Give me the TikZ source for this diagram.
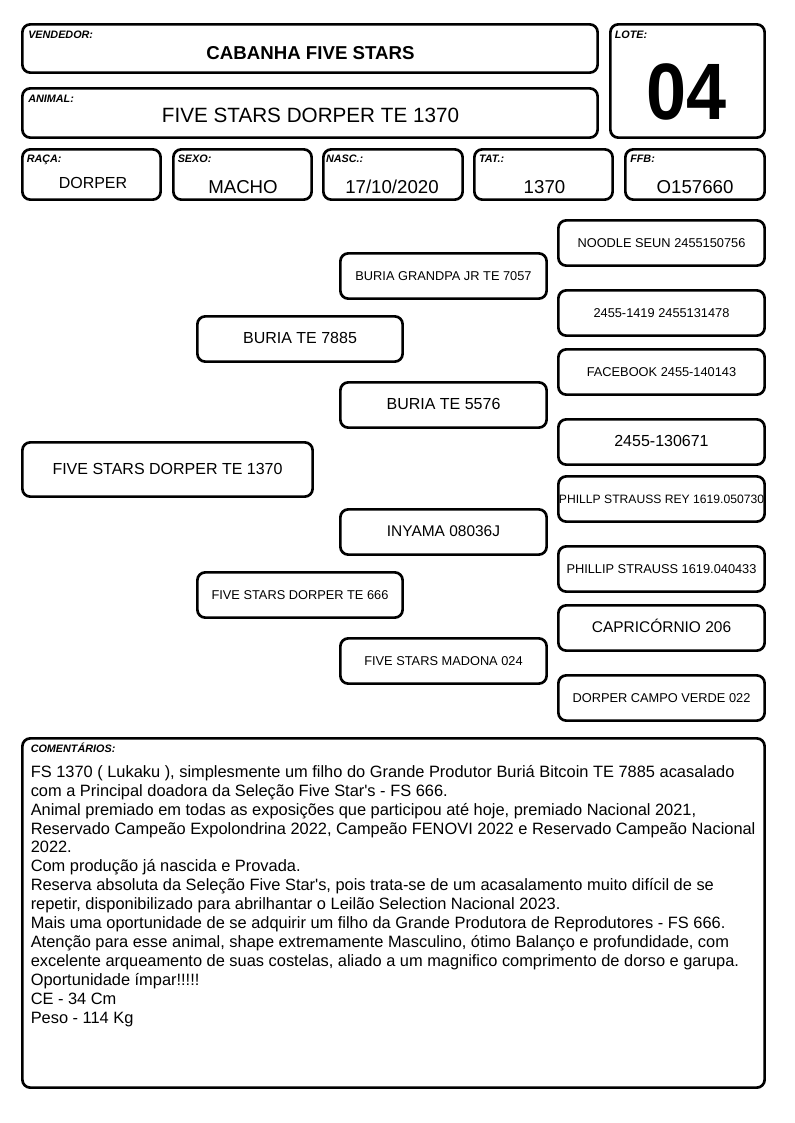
\documentclass[tikz,border=0pt]{standalone}
\usepackage{fontspec}
\newfontfamily\arial{Liberation Sans}
\newcommand\mkbox[7]{\node[bx,font=#6,minimum width={(#4-#2-2.7)*0.75pt},minimum height={(#5-#3-2.7)*0.75pt}] (#1) at ({(#2+#4)/2},{(#3+#5)/2}) {#7};}
\tikzset{
  bx/.style={draw,line width=2pt,rounded corners=6pt,inner sep=0pt,align=center,text height=0.72em,text depth=0pt},
  lab/.style={anchor=base west,inner sep=0pt,font=\arial\bfseries\itshape\fontsize{8.1}{9}\selectfont},
  val/.style={anchor=base,inner sep=0pt},
  comline/.style={anchor=base west,inner sep=0pt,font=\arial\fontsize{12.3}{14}\selectfont},
}
\newcommand\fsm{\arial\fontsize{9.6}{11}\selectfont}
\newcommand\fmd{\arial\fontsize{12}{14}\selectfont}
\newcommand\flg{\arial\fontsize{14}{16}\selectfont}
\begin{document}
\begin{tikzpicture}[x=0.75pt,y=-0.75pt]
\useasboundingbox[fill=white] (0,0) rectangle (794,1123);
% header
\mkbox{vend}{21}{23}{599}{74}{}{}
\node[lab] (lvend) at (28,38.5) {VENDEDOR:};
\node[val,font=\arial\bfseries\fontsize{14}{16}\selectfont] (vvend) at (310.5,60) {CABANHA FIVE STARS};
\mkbox{anim}{21}{87}{599}{139}{}{}
\node[lab] (lanim) at (28,103) {ANIMAL:};
\node[val,font=\arial\fontsize{15.5}{17}\selectfont] (vanim) at (310.5,122.7) {FIVE STARS DORPER TE 1370};
\mkbox{lote}{609}{23}{766}{139}{}{}
\node[lab] (llote) at (614.5,38.5) {LOTE:};
\node[val,font=\arial\bfseries\fontsize{60}{64}\selectfont,xscale=0.9,transform shape] (vlote) at (687,120) {04};
\mkbox{raca}{21}{148}{162}{201}{}{}
\node[lab] (lraca) at (26.5,163) {RAÇA:};
\node[val,font=\fmd] (vraca) at (93,188.3) {DORPER};
\mkbox{sexo}{172}{148}{313}{201}{}{}
\node[lab] (lsexo) at (177.5,163) {SEXO:};
\node[val,font=\flg] (vsexo) at (243,193.3) {MACHO};
\mkbox{nasc}{322}{148}{464}{201}{}{}
\node[lab] (lnasc) at (325.8,163) {NASC.:};
\node[val,font=\flg] (vnasc) at (392,193.3) {17/10/2020};
\mkbox{tat}{473}{148}{614}{201}{}{}
\node[lab] (ltat) at (478.8,163) {TAT.:};
\node[val,font=\flg] (vtat) at (544.5,193.3) {1370};
\mkbox{ffb}{624}{148}{766}{201}{}{}
\node[lab] (lffb) at (630,163) {FFB:};
\node[val,font=\flg] (vffb) at (695,193.3) {O157660};
% pedigree
\mkbox{p1}{557}{219}{766}{267}{\fsm}{NOODLE SEUN 2455150756}
\mkbox{p2}{339}{252}{548}{300}{\fsm}{BURIA GRANDPA JR TE 7057}
\mkbox{p3}{557}{289}{766}{337}{\fsm}{2455-1419 2455131478}
\mkbox{p4}{196}{315}{404}{363}{\fmd}{BURIA TE 7885}
\mkbox{p5}{557}{348}{766}{396}{\fsm}{FACEBOOK 2455-140143}
\mkbox{p6}{339}{381}{548}{429}{\fmd}{BURIA TE 5576}
\mkbox{p7}{557}{418}{766}{466}{\fmd}{2455-130671}
\mkbox{p8}{21}{441}{314}{498}{\fmd}{FIVE STARS DORPER TE 1370}
\mkbox{p9}{557}{475}{766}{523}{\arial\fontsize{9.1}{11}\selectfont}{PHILLP STRAUSS REY 1619.050730}
\mkbox{p10}{339}{508}{548}{556}{\arial\fontsize{11.6}{13}\selectfont}{INYAMA 08036J}
\mkbox{p11}{557}{545}{766}{593}{\fsm}{PHILLIP STRAUSS 1619.040433}
\mkbox{p12}{196}{571}{404}{619}{\fsm}{FIVE STARS DORPER TE 666}
\mkbox{p13}{557}{604}{766}{652}{\arial\fontsize{11.6}{13}\selectfont}{CAPRICÓRNIO 206}
\mkbox{p14}{339}{637}{548}{685}{\fsm}{FIVE STARS MADONA 024}
\mkbox{p15}{557}{674}{766}{722}{\fsm}{DORPER CAMPO VERDE 022}
% comments
\mkbox{com}{21}{737}{766}{1089}{}{}
\node[lab] (lcom) at (30.5,752.3) {COMENTÁRIOS:};
\node[comline] (c1) at (30.5,777.3) {FS 1370 ( Lukaku ), simplesmente um filho do Grande Produtor Buriá Bitcoin TE 7885 acasalado};
\node[comline] (c2) at (30.5,796.2) {com a Principal doadora da Seleção Five Star's - FS 666.};
\node[comline] (c3) at (30.5,815.1) {Animal premiado em todas as exposições que participou até hoje, premiado Nacional 2021,};
\node[comline] (c4) at (30.5,834.0) {Reservado Campeão Expolondrina 2022, Campeão FENOVI 2022 e Reservado Campeão Nacional};
\node[comline] (c5) at (30.5,852.9) {2022.};
\node[comline] (c6) at (30.5,871.8) {Com produção já nascida e Provada.};
\node[comline] (c7) at (30.5,890.7) {Reserva absoluta da Seleção Five Star's, pois trata-se de um acasalamento muito difícil de se};
\node[comline] (c8) at (30.5,909.6) {repetir, disponibilizado para abrilhantar o Leilão Selection Nacional 2023.};
\node[comline] (c9) at (30.5,928.5) {Mais uma oportunidade de se adquirir um filho da Grande Produtora de Reprodutores - FS 666.};
\node[comline] (c10) at (30.5,947.4) {Atenção para esse animal, shape extremamente Masculino, ótimo Balanço e profundidade, com};
\node[comline] (c11) at (30.5,966.3) {excelente arqueamento de suas costelas, aliado a um magnifico comprimento de dorso e garupa.};
\node[comline] (c12) at (30.5,985.2) {Oportunidade ímpar!!!!!};
\node[comline] (c13) at (30.5,1004.1) {CE - 34 Cm};
\node[comline] (c14) at (30.5,1023.0) {Peso - 114 Kg};
\end{tikzpicture}
\end{document}
